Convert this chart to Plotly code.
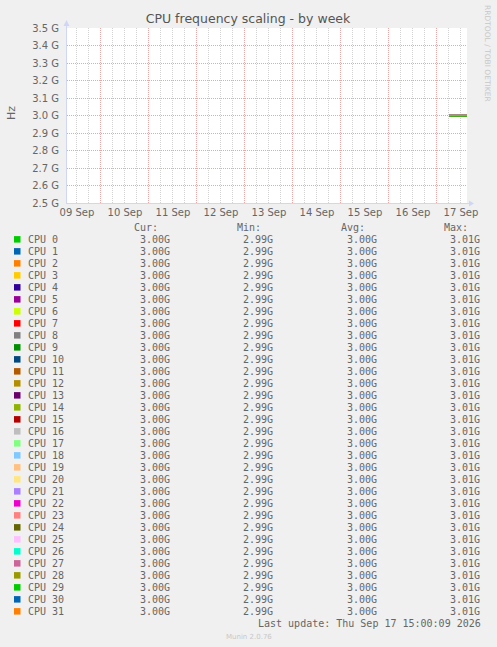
import plotly.graph_objects as go

# chart values
cpu_names = ["CPU %d" % i for i in range(32)]
cpu_colors = [
    "#00CC00", "#0066B3", "#FF8000", "#FFCC00", "#330099", "#990099", "#CCFF00", "#FF0000",
    "#808080", "#008F00", "#00487D", "#B35A00", "#B38F00", "#6B006B", "#8FB300", "#B30000",
    "#BEBEBE", "#80FF80", "#80C9FF", "#FFC080", "#FFE680", "#AA80FF", "#EE00CC", "#FF8080",
    "#666600", "#FFBFFF", "#00FFCC", "#CC6699", "#999900", "#00CC00", "#0066B3", "#FF8000",
]
cur_ghz = [3.00, 3.00, 3.00, 3.00, 3.00, 3.00, 3.00, 3.00, 3.00, 3.00, 3.00, 3.00, 3.00, 3.00, 3.00, 3.00,
           3.00, 3.00, 3.00, 3.00, 3.00, 3.00, 3.00, 3.00, 3.00, 3.00, 3.00, 3.00, 3.00, 3.00, 3.00, 3.00]
min_ghz = [2.99, 2.99, 2.99, 2.99, 2.99, 2.99, 2.99, 2.99, 2.99, 2.99, 2.99, 2.99, 2.99, 2.99, 2.99, 2.99,
           2.99, 2.99, 2.99, 2.99, 2.99, 2.99, 2.99, 2.99, 2.99, 2.99, 2.99, 2.99, 2.99, 2.99, 2.99, 2.99]
avg_ghz = [3.00, 3.00, 3.00, 3.00, 3.00, 3.00, 3.00, 3.00, 3.00, 3.00, 3.00, 3.00, 3.00, 3.00, 3.00, 3.00,
           3.00, 3.00, 3.00, 3.00, 3.00, 3.00, 3.00, 3.00, 3.00, 3.00, 3.00, 3.00, 3.00, 3.00, 3.00, 3.00]
max_ghz = [3.01, 3.01, 3.01, 3.01, 3.01, 3.01, 3.01, 3.01, 3.01, 3.01, 3.01, 3.01, 3.01, 3.01, 3.01, 3.01,
           3.01, 3.01, 3.01, 3.01, 3.01, 3.01, 3.01, 3.01, 3.01, 3.01, 3.01, 3.01, 3.01, 3.01, 3.01, 3.01]

# samples (30 min resolution) only exist for the last hours of the week
sample_times = [
    "2026-09-17 06:00", "2026-09-17 06:30", "2026-09-17 07:00", "2026-09-17 07:30",
    "2026-09-17 08:00", "2026-09-17 08:30", "2026-09-17 09:00", "2026-09-17 09:30",
    "2026-09-17 10:00", "2026-09-17 10:30", "2026-09-17 11:00", "2026-09-17 11:30",
    "2026-09-17 12:00", "2026-09-17 12:30", "2026-09-17 13:00", "2026-09-17 13:30",
    "2026-09-17 14:00", "2026-09-17 14:30", "2026-09-17 15:00",
]
freq_a = [3.000, 3.000, 3.000, 3.000, 3.000, 3.000, 3.000, 3.000, 3.000, 3.000,
          3.000, 3.000, 3.000, 3.000, 3.000, 3.000, 3.000, 3.000, 3.000]
freq_b = [2.997, 2.997, 2.997, 2.997, 2.997, 2.997, 2.997, 2.997, 2.997, 2.997,
          2.997, 2.997, 2.997, 2.997, 2.997, 2.997, 2.997, 2.997, 2.997]
# which sample row each CPU follows
cpu_pattern = ["a", "a", "a", "a", "a", "a", "a", "a", "a", "a", "a", "a", "a", "a", "a", "a",
               "a", "a", "a", "a", "a", "a", "a", "a", "a", "a", "a", "a", "b", "b", "a", "a"]

y_ticks = [2.5, 2.6, 2.7, 2.8, 2.9, 3.0, 3.1, 3.2, 3.3, 3.4, 3.5]
y_tick_labels = ["2.5 G", "2.6 G", "2.7 G", "2.8 G", "2.9 G", "3.0 G", "3.1 G", "3.2 G", "3.3 G", "3.4 G", "3.5 G"]
x_start = "2026-09-09 07:00:09"
x_end = "2026-09-17 15:00:09"
last_update = "Last update: Thu Sep 17 15:00:09 2026"

# plot area in pixels
L, R, T, B = 67, 467, 28, 203


def px(x):
    return (x - L) / (R - L)


def py(y):
    return (B - y) / (B - T)


patterns = {"a": freq_a, "b": freq_b}
fig = go.Figure()
for i, name in enumerate(cpu_names):
    fig.add_trace(go.Scatter(x=sample_times, y=patterns[cpu_pattern[i]], mode="lines",
                             name=name, line=dict(color=cpu_colors[i], width=1.2)))

grey = "#666666"
mono = "DejaVu Sans Mono"
ann = []
shapes = []

# legend table
row0 = 239.3
cols = [(172, "Cur:", cur_ghz), (275.3, "Min:", min_ghz), (378.7, "Avg:", avg_ghz), (482, "Max:", max_ghz)]
for cx, head, vals in cols:
    ann.append(dict(x=px(cx - 12), y=py(227.5), text=head, xanchor="right"))
for i, name in enumerate(cpu_names):
    ry = row0 + 12 * i
    shapes.append(dict(type="rect", xref="paper", yref="paper", x0=px(14), x1=px(20.5),
                       y0=py(ry + 3.3), y1=py(ry - 3.2), fillcolor=cpu_colors[i], line=dict(width=0)))
    ann.append(dict(x=px(26), y=py(ry), text=name, xanchor="left"))
    for cx, head, vals in cols:
        ann.append(dict(x=px(cx), y=py(ry), text="%.2fG" % vals[i], xanchor="right"))
ann.append(dict(x=px(482.5), y=py(623.5), text=last_update, xanchor="right"))
for a in ann:
    a.update(xref="paper", yref="paper", yanchor="middle", showarrow=False,
             font=dict(family=mono, size=10, color=grey))

small = dict(xref="paper", yref="paper", xanchor="center", yanchor="middle", showarrow=False)
ann.append(dict(x=px(249), y=py(637), text="Munin 2.0.76",
                font=dict(family="DejaVu Sans", size=7, color="#C8C8C8"), **small))
ann.append(dict(x=px(487.5), y=py(53.5), text="RRDTOOL / TOBI OETIKER", textangle=90,
                font=dict(family="DejaVu Sans", size=7.5, color="#C8C8C8"), **small))
ann.append(dict(x=px(11), y=py(113), text="Hz", textangle=-90,
                font=dict(family="DejaVu Sans", size=11, color=grey), **small))

# axes with arrows
axis_col = "#CFD6F8"
shapes.append(dict(type="line", xref="paper", yref="paper", x0=px(66.5), x1=px(66.5), y0=py(203.5), y1=py(24),
                   line=dict(color=axis_col, width=1)))
shapes.append(dict(type="line", xref="paper", yref="paper", x0=px(66), x1=px(470), y0=py(203.5), y1=py(203.5),
                   line=dict(color=axis_col, width=1)))
shapes.append(dict(type="path", xref="paper", yref="paper", fillcolor=axis_col, line=dict(width=0),
                   path="M %f %f L %f %f L %f %f Z" % (px(63.5), py(26), px(69.5), py(26), px(66.5), py(20))))
shapes.append(dict(type="path", xref="paper", yref="paper", fillcolor=axis_col, line=dict(width=0),
                   path="M %f %f L %f %f L %f %f Z" % (px(469), py(200.5), px(469), py(206.5), px(474), py(203.5))))

fig.update_layout(
    width=497, height=647,
    margin=dict(l=L, r=497 - R, t=T, b=647 - B, pad=0),
    paper_bgcolor="#F0F0F0", plot_bgcolor="#FFFFFF",
    showlegend=False,
    title=dict(text="CPU frequency scaling - by week", x=248 / 497, xanchor="center",
               y=1 - 19 / 647, yanchor="middle", font=dict(family="DejaVu Sans", size=12.5, color="#555555")),
    annotations=ann, shapes=shapes,
)
fig.update_xaxes(
    type="date", range=[x_start, x_end], tick0="2026-09-10", dtick=86400000,
    ticklabelmode="period", tickformat="%d %b", ticks="", showline=False, zeroline=False,
    showgrid=True, gridcolor="#E8A8A8", griddash="1px,1px", gridwidth=1,
    minor=dict(dtick=21600000, tick0="2026-09-10", showgrid=True, gridcolor="#D2D2D2", griddash="1px,1px", gridwidth=1),
    tickfont=dict(family="DejaVu Sans", size=10, color=grey), ticklabelstandoff=2,
)
fig.update_yaxes(
    range=[2.5, 3.5], tickvals=y_ticks, ticktext=y_tick_labels, ticks="", showline=False, zeroline=False,
    showgrid=True, gridcolor="#E8A8A8", griddash="1px,1px", gridwidth=1,
    tickfont=dict(family="DejaVu Sans", size=10, color=grey), ticklabelstandoff=7,
)

fig.write_html("out.html", config={"displayModeBar": False},
               post_script="document.body.style.margin = '0px';")
